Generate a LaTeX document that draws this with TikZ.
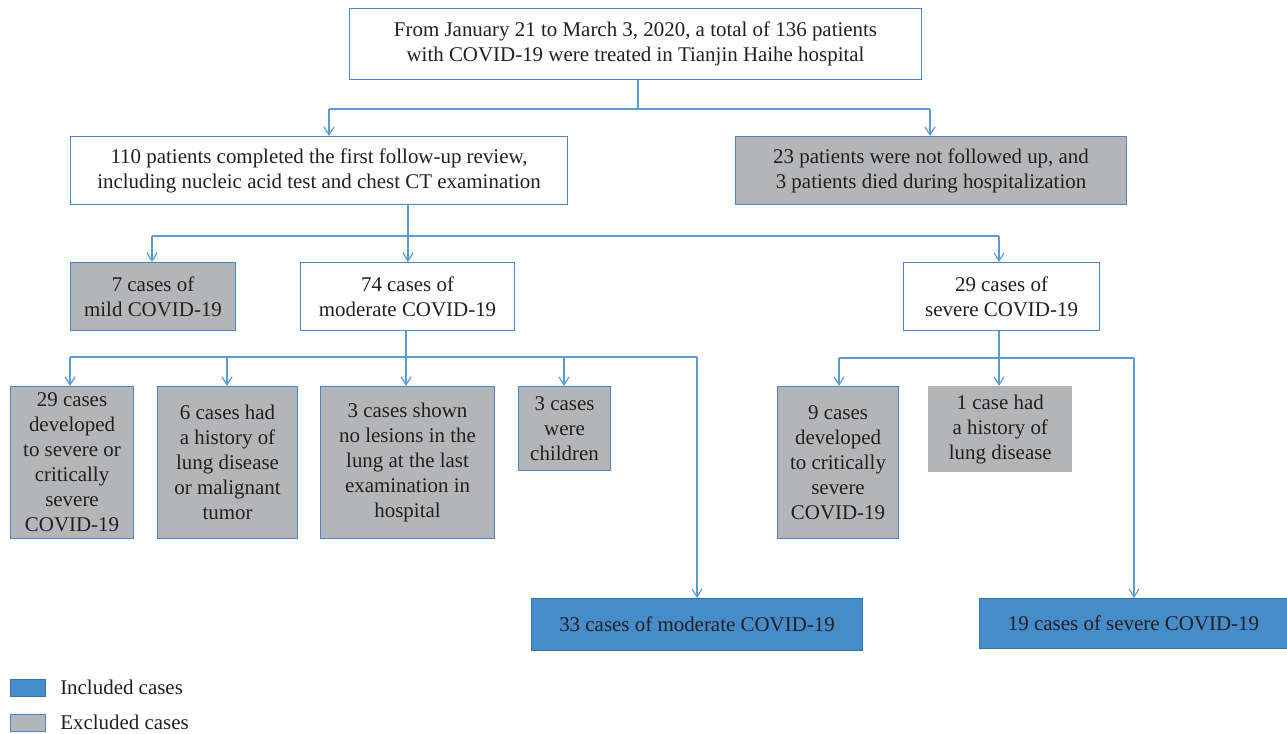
\documentclass[tikz,border=0pt]{standalone}
\usepackage{fontspec}
\setmainfont{Liberation Serif}
\usetikzlibrary{arrows.meta}
\definecolor{lineblue}{HTML}{5B9BD5}
\definecolor{edgeblue}{HTML}{4A86C5}
\definecolor{boxgray}{HTML}{B3B5B6}
\definecolor{fillblue}{HTML}{468CCB}
\definecolor{darkedge}{HTML}{2E75B6}
\definecolor{txt}{HTML}{231F20}
\begin{document}
\begin{tikzpicture}[x=0.75pt,y=-0.75pt,
  font=\fontsize{15.7}{18.75}\selectfont, text=txt,
  base/.style={inner sep=0pt, align=center, anchor=north west},
  sz/.style 2 args={minimum width=#1*0.75pt, minimum height=#2*0.75pt},
  wbox/.style={base, draw=edgeblue, line width=0.8pt, fill=white},
  gbox/.style={base, draw=edgeblue, line width=0.8pt, fill=boxgray},
  gnb/.style={base, fill=boxgray},
  bbox/.style={base, draw=darkedge, line width=0.8pt, fill=fillblue},
  ln/.style={draw=lineblue, line width=0.9pt},
  arr/.style={ln, -{Straight Barb[length=6pt,width=7.5pt,line width=0.9pt]}}]
\useasboundingbox (0,0) rectangle (1287,733);

\node[wbox, sz={572}{71}] (top) at (349,8) {From January 21 to March 3, 2020, a total of 136 patients\\with COVID-19 were treated in Tianjin Haihe hospital};

\node[wbox, sz={497}{68}] (A) at (70,136) {110 patients completed the first follow-up review,\\including nucleic acid test and chest CT examination};
\node[gbox, sz={391}{68}] (B) at (735,136) {23 patients were not followed up, and\\3 patients died during hospitalization};

\node[gbox, sz={165}{68}] (mild) at (70,262) {7 cases of\\mild COVID-19};
\node[wbox, sz={214}{68}] (mod) at (300,262) {74 cases of\\moderate COVID-19};
\node[wbox, sz={196}{68}] (sev) at (903,262) {29 cases of\\severe COVID-19};

\node[gbox, sz={123}{152}] (c1) at (10,386) {29 cases\\developed\\to severe or\\critically\\severe\\COVID-19};
\node[gbox, sz={140}{152}] (c2) at (157,386) {6 cases had\\a history of\\lung disease\\or malignant\\tumor};
\node[gbox, sz={174}{152}] (c3) at (320,386) {3 cases shown\\no lesions in the\\lung at the last\\examination in\\hospital};
\node[gbox, sz={92}{84}] (c4) at (518,386) {3 cases\\were\\children};
\node[bbox, sz={331}{52}] (inm) at (531,598) {33 cases of moderate COVID-19};

\node[gbox, sz={121}{152}] (s1) at (777,386) {9 cases\\developed\\to critically\\severe\\COVID-19};
\node[gnb, sz={144}{86}] (s2) at (928,386) {1 case had\\a history of\\lung disease};
\node[bbox, sz={308}{50}] (ins) at (979,598) {19 cases of severe COVID-19};

% legend
\node[bbox, sz={35}{17}] (lg1) at (10,679) {};
\node[anchor=west, inner sep=0pt] (lt1) at (60,687) {Included cases};
\node[gbox, sz={35}{17}] (lg2) at (10,714) {};
\node[anchor=west, inner sep=0pt] (lt2) at (60,722) {Excluded cases};

% level 1
\coordinate (j1) at (638,109);
\coordinate (j1l) at (329,109);
\coordinate (j1r) at (930,109);
\draw[ln] (top.south -| j1) -- (j1);
\draw[ln] (j1l) -- (j1r);
\draw[arr] (j1l) -- (j1l |- A.north);
\draw[arr] (j1r) -- (j1r |- B.north);

% level 2
\coordinate (j2) at (408,236);
\coordinate (j2l) at (152,236);
\coordinate (j2r) at (999,236);
\draw[ln] (A.south -| j2) -- (j2);
\draw[ln] (j2l) -- (j2r);
\draw[arr] (j2l) -- (j2l |- mild.north);
\draw[arr] (j2) -- (j2 |- mod.north);
\draw[arr] (j2r) -- (j2r |- sev.north);

% level 3 moderate
\coordinate (j3) at (406,357);
\coordinate (j3a) at (70,357);
\coordinate (j3b) at (227,357);
\coordinate (j3d) at (564,357);
\coordinate (j3e) at (697,357);
\draw[ln] (mod.south -| j3) -- (j3);
\draw[ln] (j3a) -- (j3e);
\draw[arr] (j3a) -- (j3a |- c1.north);
\draw[arr] (j3b) -- (j3b |- c2.north);
\draw[arr] (j3) -- (j3 |- c3.north);
\draw[arr] (j3d) -- (j3d |- c4.north);
\draw[arr] (j3e) -- (j3e |- inm.north);

% level 3 severe
\coordinate (j4) at (999,358);
\coordinate (j4a) at (839,358);
\coordinate (j4c) at (1134,358);
\draw[ln] (sev.south -| j4) -- (j4);
\draw[ln] (j4a) -- (j4c);
\draw[arr] (j4a) -- (j4a |- s1.north);
\draw[arr] (j4) -- (j4 |- s2.north);
\draw[arr] (j4c) -- (j4c |- ins.north);
\end{tikzpicture}
\end{document}
